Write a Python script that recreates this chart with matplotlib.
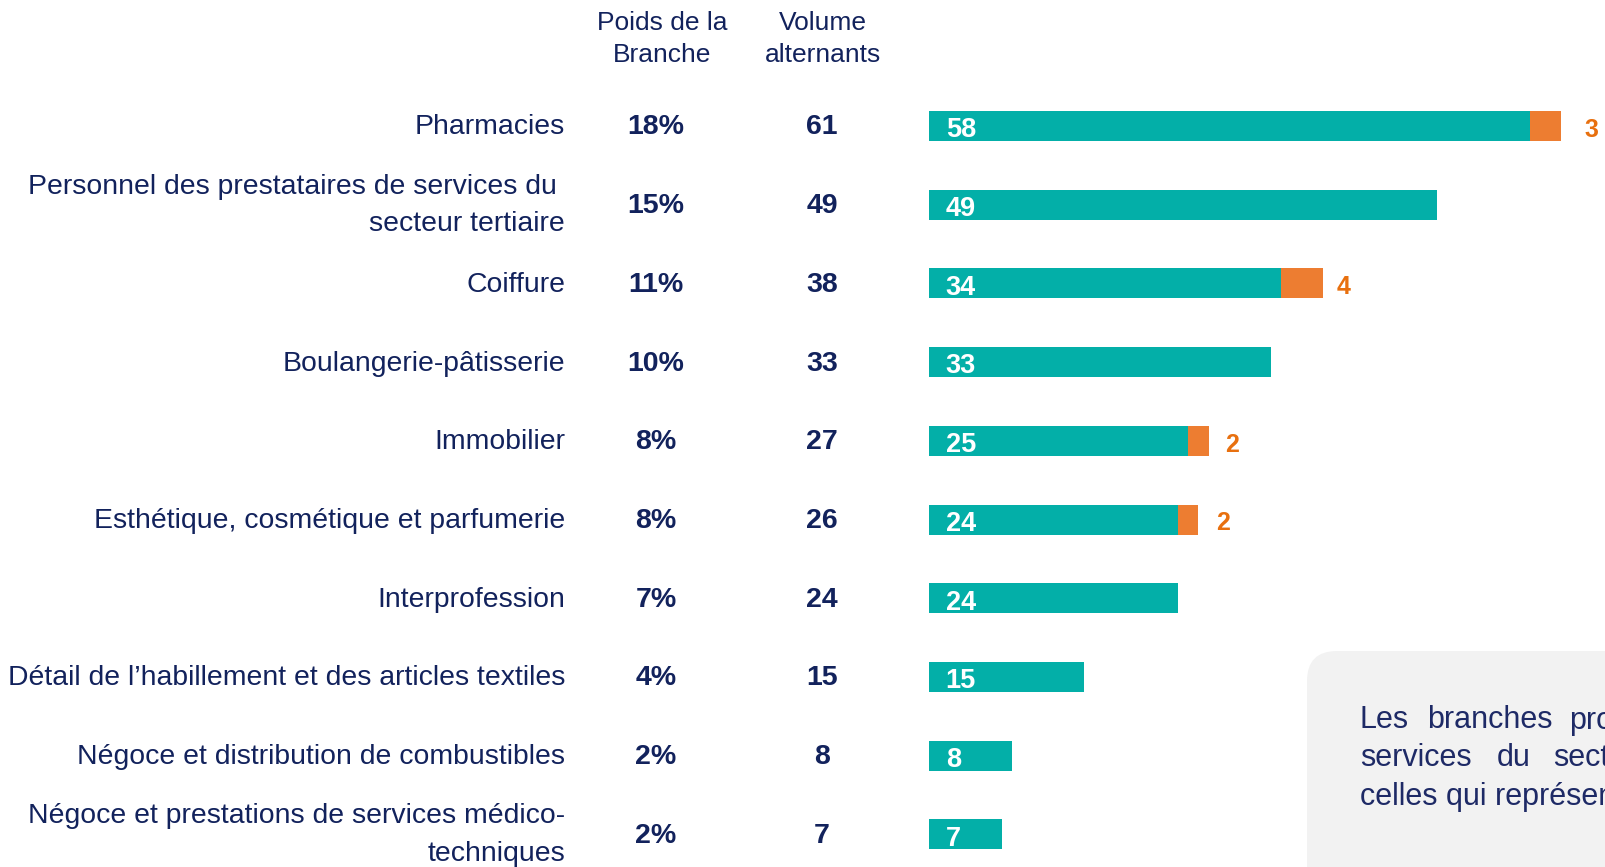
import matplotlib
matplotlib.use("Agg")
import matplotlib.pyplot as plt
from matplotlib import transforms
from matplotlib.patches import FancyBboxPatch
from matplotlib.transforms import IdentityTransform

categories = [
    "Pharmacies",
    "Personnel des prestataires de services du \nsecteur tertiaire",
    "Coiffure",
    "Boulangerie-pâtisserie",
    "Immobilier",
    "Esthétique, cosmétique et parfumerie",
    "Interprofession",
    "Détail de l\u2019habillement et des articles textiles",
    "Négoce et distribution de combustibles",
    "Négoce et prestations de services médico-\ntechniques",
]
poids = ["18%", "15%", "11%", "10%", "8%", "8%", "7%", "4%", "2%", "2%"]
volume = [61, 49, 38, 33, 27, 26, 24, 15, 8, 7]
teal_vals = [58, 49, 34, 33, 25, 24, 24, 15, 8, 7]
orange_vals = [3, 0, 4, 0, 2, 2, 0, 0, 0, 0]
header_poids = ["Poids de la", "Branche"]
header_volume = ["Volume", "alternants"]
box_lines = [
    ["Les", "branches", "professionnelles"],
    ["services", "du", "secteur"],
    ["celles qui représentent"],
]

TEAL = "#03AFA8"
ORANGE = "#ED7D31"
ORANGE_TXT = "#E8700F"
NAVY = "#12225C"
BOX_TXT = "#1E2A66"
FONT = "Liberation Sans"

W, H = 1606, 867
fig = plt.figure(figsize=(W / 100, H / 100), dpi=100)
fig.patch.set_facecolor("white")

x0 = 929 / W
ax = fig.add_axes([x0, 0, 1 - x0, 1])
ax.set_xlim(0, (W - 929) / 10.36)
row0, step = 126, 78.7
ax.set_ylim((H - row0) / step, -row0 / step)
ax.axis("off")

rows = list(range(len(categories)))
ax.barh(rows, teal_vals, height=30 / step, color=TEAL, edgecolor="none", zorder=3)
ax.barh(rows, orange_vals, left=teal_vals, height=30 / step, color=ORANGE,
        edgecolor="none", zorder=3)

orange_dx = [17, 0, 10, 0, 12, 13, 0, 0, 0, 0]
for i in rows:
    ax.annotate(str(teal_vals[i]), xy=(0, i), xytext=(12, -1), textcoords="offset points",
                ha="left", va="center_baseline", color="white", fontsize=19.5,
                fontweight="bold", family=FONT, zorder=4)
    if orange_vals[i]:
        ax.annotate(str(orange_vals[i]), xy=(teal_vals[i] + orange_vals[i], i),
                    xytext=(orange_dx[i], -1), textcoords="offset points", ha="left",
                    va="center_baseline", color=ORANGE_TXT, fontsize=18,
                    fontweight="bold", family=FONT, zorder=4)

tr = transforms.blended_transform_factory(fig.transFigure, ax.transData)
up = 1.5 / step
for i in rows:
    lines = categories[i].split("\n")
    if len(lines) == 1:
        offs = [0]
    else:
        offs = [-19.5 / step, 18 / step]
    for ln, off in zip(lines, offs):
        ax.text(565 / W, i + off - up, ln, transform=tr, ha="right", va="center_baseline",
                fontsize=20.4, color=NAVY, family=FONT)
    ax.text(656 / W, i - up, poids[i], transform=tr, ha="center", va="center_baseline",
            fontsize=20.5, fontweight="bold", color=NAVY, family=FONT)
    ax.text(822 / W, i - up, str(volume[i]), transform=tr, ha="center",
            va="center_baseline", fontsize=20.5, fontweight="bold", color=NAVY, family=FONT)

for lines, xc in ((header_poids, 662), (header_volume, 823)):
    for ln, yy in zip(lines, (21, 53)):
        fig.text(xc / W, 1 - yy / H, ln, ha="center", va="center_baseline",
                 fontsize=19, color=NAVY, family=FONT)

# grey rounded callout box (pixel coordinates, clipped by figure)
box = FancyBboxPatch((1307, -60), 500, H - 651 + 60,
                     boxstyle="round,pad=0,rounding_size=30",
                     transform=IdentityTransform(), facecolor="#F2F2F2",
                     edgecolor="none", zorder=1)
fig.patches.append(box)

word_x = [
    [1360, 1427, 1569],
    [1360, 1497, 1553],
    [1360],
]
line_y = [717, 755, 793]
for line, xs, yy in zip(box_lines, word_x, line_y):
    for wd, xx in zip(line, xs):
        fig.text(xx / W, 1 - yy / H, wd, ha="left", va="center_baseline",
                 fontsize=22, color=BOX_TXT, family=FONT, zorder=2)

fig.savefig("out.png", dpi=100)
